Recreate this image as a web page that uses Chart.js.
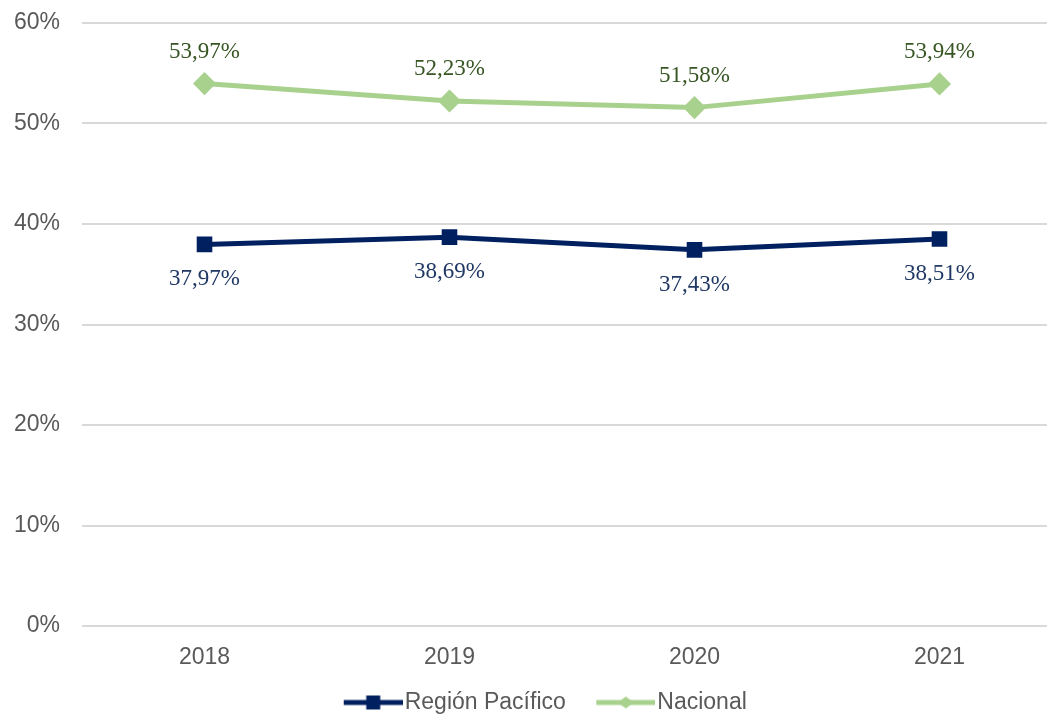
<!DOCTYPE html>
<html lang="es">
<head>
<meta charset="utf-8">
<title>Región Pacífico vs Nacional</title>
<script src="https://cdn.jsdelivr.net/npm/chart.js@4/dist/chart.umd.min.js"></script>
<style>
  html, body { margin: 0; padding: 0; background: #fff; overflow: hidden; }
  #wrap { width: 1075px; height: 717px; position: relative; }
</style>
</head>
<body>
<div id="wrap"><canvas id="chart"></canvas></div>
<script>
const years = ['2018', '2019', '2020', '2021'];
const regionPacifico = [37.97, 38.69, 37.43, 38.51];
const nacional = [53.97, 52.23, 51.58, 53.94];
const yTicks = [0, 10, 20, 30, 40, 50, 60];

const NAVY = '#002060';
const GREEN = '#a9d18e';

// legend swatch: a short line with the series marker in the middle,
// shifted right inside the image so it hugs the label text
function legendSwatch(color, marker) {
  const c = document.createElement('canvas');
  c.width = 89;
  c.height = 18;
  const g = c.getContext('2d');
  const x0 = 30, x1 = 89, cy = 9, mid = (x0 + x1) / 2;
  g.strokeStyle = color;
  g.lineWidth = 5;
  g.beginPath();
  g.moveTo(x0, cy);
  g.lineTo(x1, cy);
  g.stroke();
  g.fillStyle = color;
  if (marker === 'square') {
    g.fillRect(mid - 7, cy - 7, 14, 14);
  } else {
    g.beginPath();
    g.moveTo(mid, cy - 6);
    g.lineTo(mid + 8, cy);
    g.lineTo(mid, cy + 6);
    g.lineTo(mid - 8, cy);
    g.closePath();
    g.fill();
  }
  return c;
}

const swatches = [legendSwatch(NAVY, 'square'), legendSwatch(GREEN, 'diamond')];

// value labels above / below each point
const valueLabels = {
  id: 'valueLabels',
  afterDatasetsDraw(chart) {
    const ctx = chart.ctx;
    ctx.save();
    ctx.font = '23px "Liberation Serif", "Times New Roman", serif';
    ctx.textAlign = 'center';
    ctx.textBaseline = 'middle';
    chart.data.datasets.forEach((ds, i) => {
      const meta = chart.getDatasetMeta(i);
      ctx.fillStyle = ds.labelColor;
      meta.data.forEach((pt, j) => {
        const txt = ds.data[j].toFixed(2).replace('.', ',') + '%';
        ctx.fillText(txt, pt.x, pt.y + ds.labelOffset);
      });
    });
    ctx.restore();
  }
};

new Chart(document.getElementById('chart'), {
  type: 'line',
  data: {
    labels: years,
    datasets: [
      {
        label: 'Región Pacífico',
        data: regionPacifico,
        borderColor: NAVY,
        backgroundColor: NAVY,
        borderWidth: 5,
        pointStyle: 'rect',
        pointRadius: 7.5,
        pointHoverRadius: 7.5,
        tension: 0,
        labelColor: '#1f3864',
        labelOffset: 35
      },
      {
        label: 'Nacional',
        data: nacional,
        borderColor: GREEN,
        backgroundColor: GREEN,
        borderWidth: 5,
        pointStyle: 'rectRot',
        pointRadius: 8,
        pointHoverRadius: 8,
        tension: 0,
        labelColor: '#375623',
        labelOffset: -32
      }
    ]
  },
  options: {
    responsive: true,
    maintainAspectRatio: false,
    animation: false,
    layout: { padding: { top: 23, left: 0, right: 5, bottom: 0 } },
    plugins: {
      tooltip: { enabled: false },
      legend: {
        position: 'bottom',
        maxHeight: 36,
        labels: {
          usePointStyle: true,
          pointStyleWidth: 70,
          padding: 10,
          color: '#595959',
          font: { family: '"Liberation Sans", Arial, sans-serif', size: 23 },
          generateLabels(chart) {
            return chart.data.datasets.map((ds, i) => ({
              text: ds.label,
              datasetIndex: i,
              pointStyle: swatches[i],
              fontColor: '#595959',
              lineWidth: 0,
              strokeStyle: 'transparent',
              fillStyle: 'transparent',
              hidden: false
            }));
          }
        }
      }
    },
    scales: {
      x: {
        offset: true,
        grid: { display: false },
        border: { display: false },
        ticks: {
          padding: 10,
          color: '#595959',
          font: { family: '"Liberation Sans", Arial, sans-serif', size: 23 }
        },
        afterFit(axis) {
          axis.height = 55;
          axis.paddingLeft = 0;
          axis.paddingRight = 0;
        }
      },
      y: {
        min: 0,
        max: 60,
        afterBuildTicks(axis) { axis.ticks = yTicks.map(v => ({ value: v })); },
        grid: { color: '#d9d9d9', lineWidth: 2, drawTicks: false },
        border: { display: false },
        ticks: {
          padding: 22,
          color: '#595959',
          font: { family: '"Liberation Sans", Arial, sans-serif', size: 23 },
          callback: v => v + '%'
        },
        afterFit(axis) {
          axis.width = 82;
          axis.paddingTop = 0;
          axis.paddingBottom = 0;
        }
      }
    }
  },
  plugins: [valueLabels]
});
</script>
</body>
</html>
